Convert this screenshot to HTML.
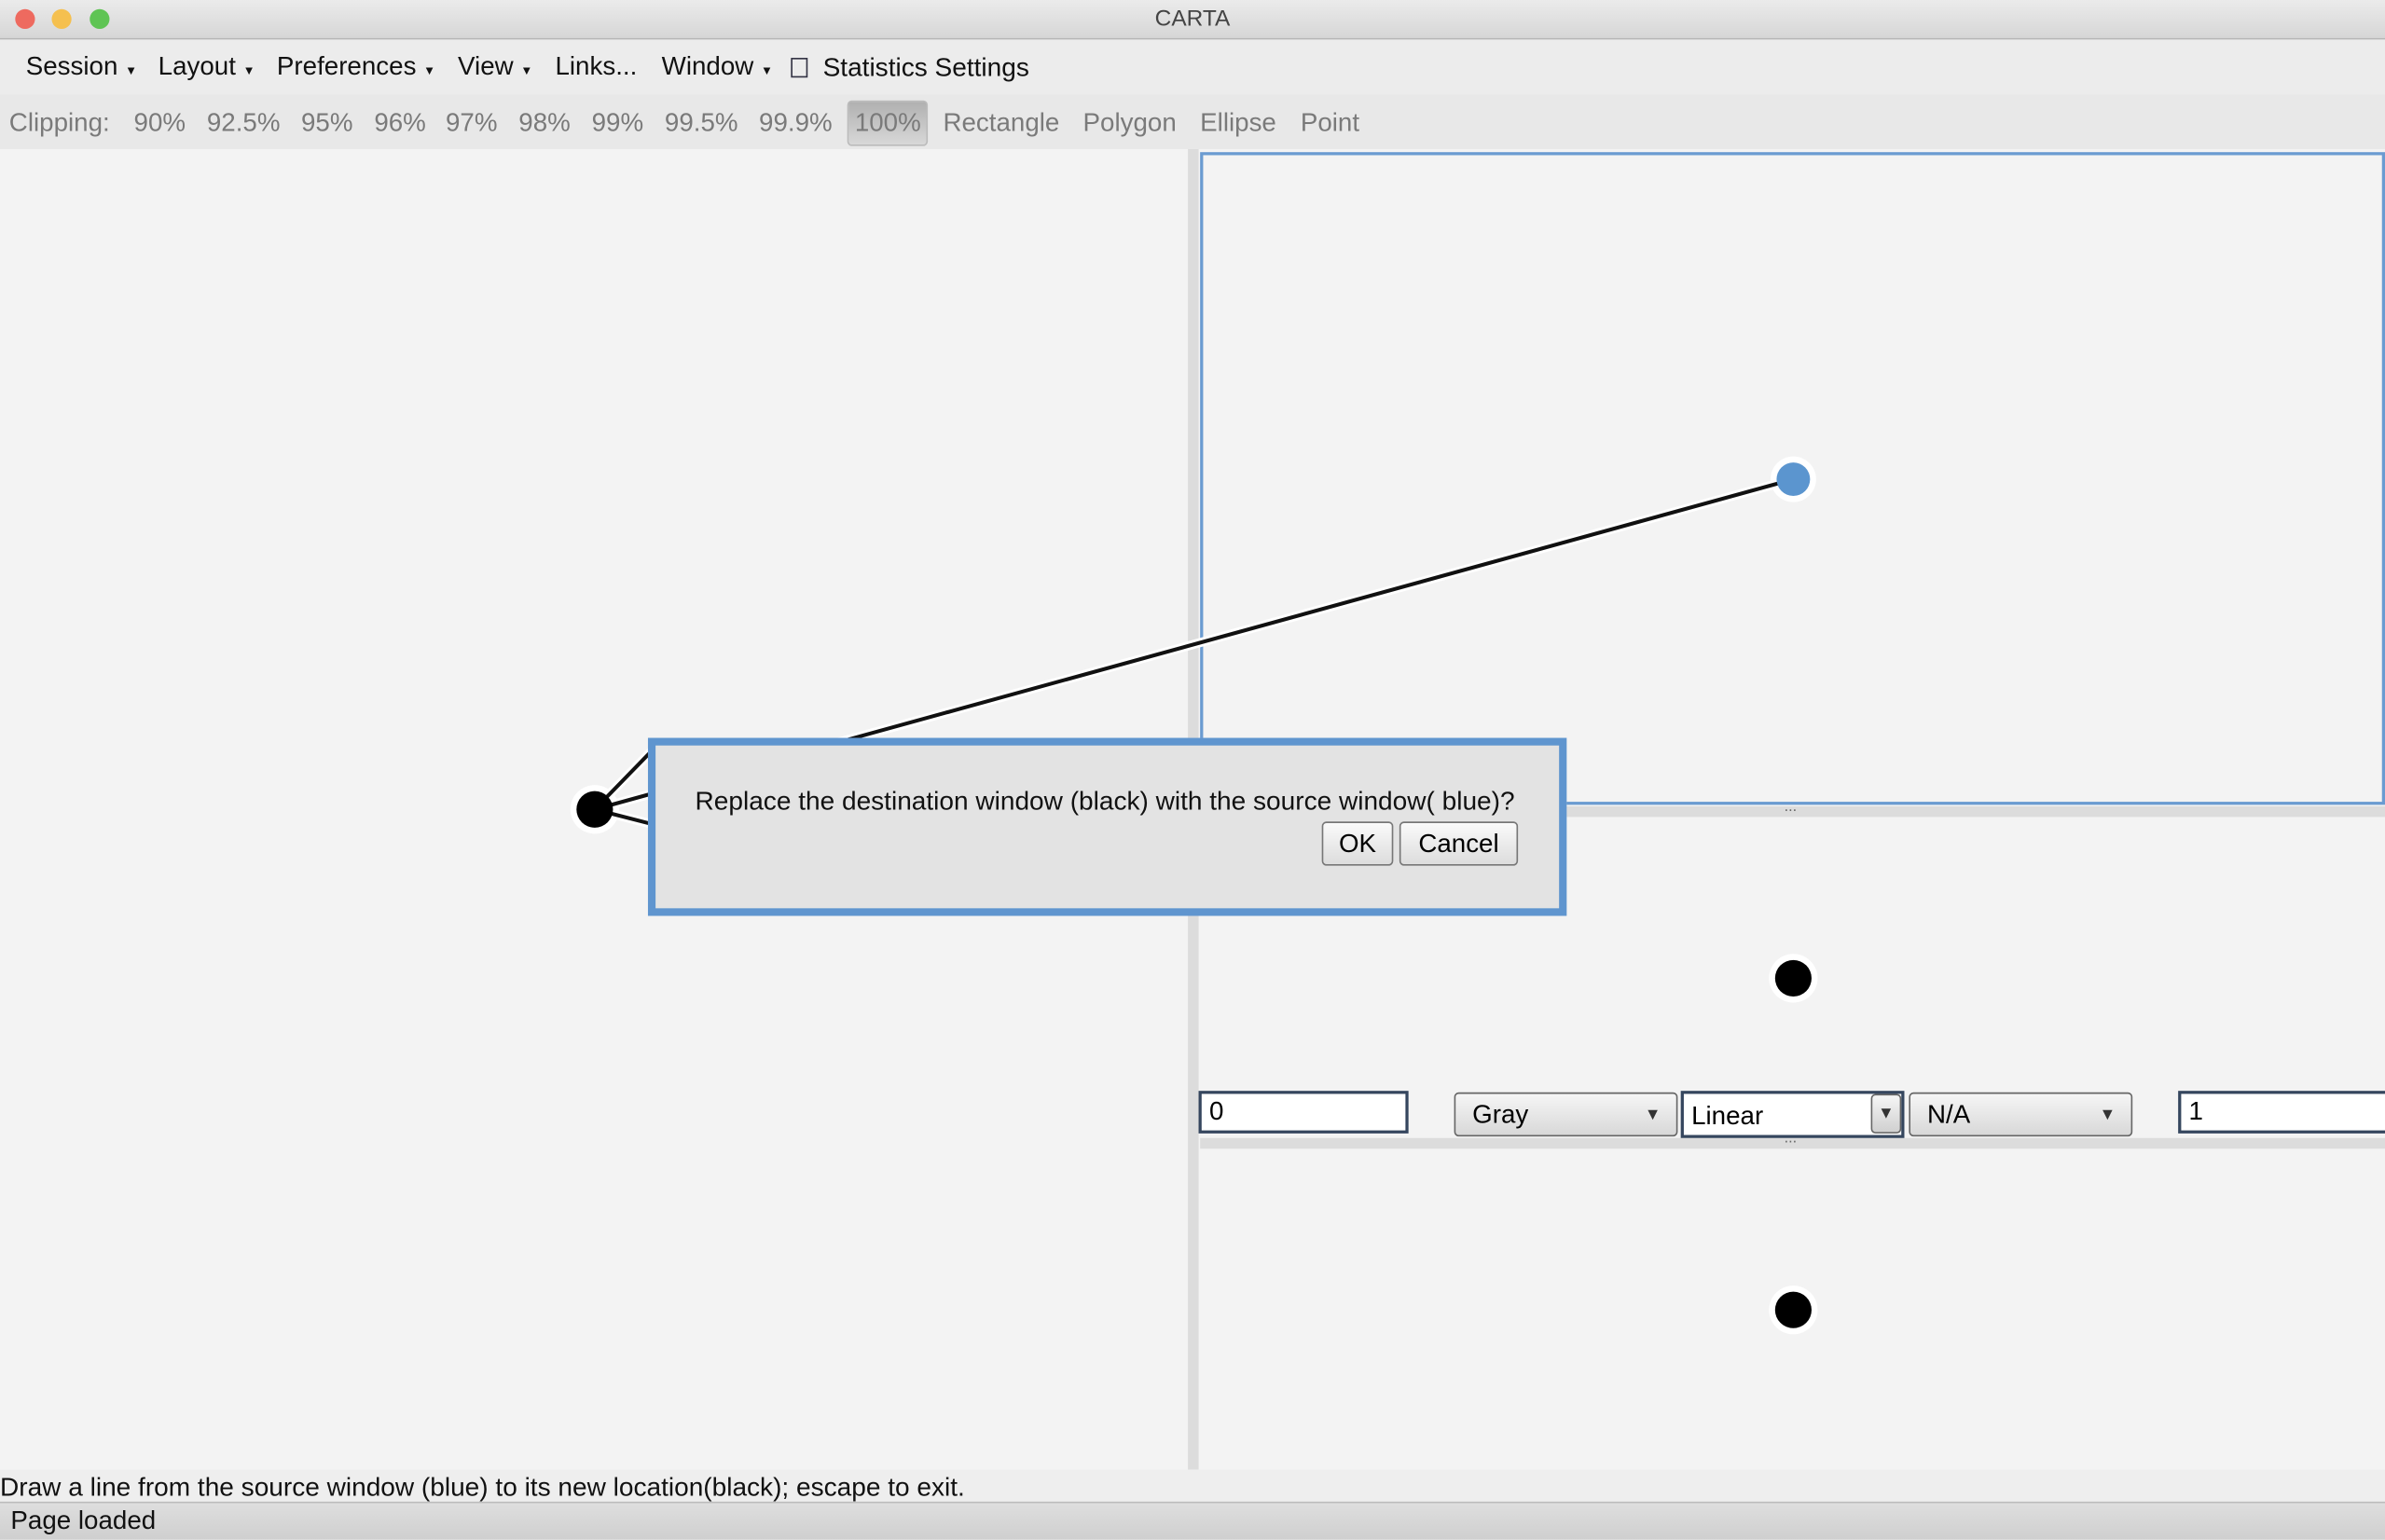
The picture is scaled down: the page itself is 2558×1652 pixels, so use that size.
<!DOCTYPE html>
<html><head><meta charset="utf-8"><style>
html,body{margin:0;padding:0;width:2558px;height:1650px;overflow:hidden;background:#f3f3f3}
#s{position:absolute;left:0;top:0;width:1568px;height:1011px;transform:scale(1.63138,1.63205);transform-origin:0 0;font-family:"Liberation Sans",sans-serif;background:#f3f3f3}
.a{position:absolute}
.t{position:absolute;white-space:nowrap}
.btn{position:absolute;border:1px solid #777;border-radius:3px;background:linear-gradient(#fafafa,#ddd);font-size:17px;text-align:center;box-sizing:border-box}
.dd{position:absolute;border:1px solid #666;border-radius:3px;background:linear-gradient(#f6f6f6,#d8d8d8);box-sizing:border-box;font-size:17px;padding-left:11px;line-height:28px}
.dd i{position:absolute;right:10px;top:0;font-style:normal;font-size:11px;color:#333}
.in{position:absolute;border:2px solid #35465e;background:#fff;box-sizing:border-box;font-size:17px;padding-left:5px;line-height:24px}
</style></head><body><div id="s">
<div class="a" style="left:0;top:0;width:1568px;height:25px;background:linear-gradient(#ebebeb,#d6d6d6);border-bottom:1px solid #b5b5b5"></div>
<div class="a" style="left:10px;top:6px;width:13px;height:13px;border-radius:50%;background:#ee6a5f"></div>
<div class="a" style="left:34px;top:6px;width:13px;height:13px;border-radius:50%;background:#f5c04f"></div>
<div class="a" style="left:59px;top:6px;width:13px;height:13px;border-radius:50%;background:#5fc454"></div>
<div class="t" style="left:0;width:1568px;text-align:center;top:4px;font-size:15px;color:#444">CARTA</div>
<div class="a" style="left:0;top:26px;width:1568px;height:36px;background:#ececec"></div>
<div class="t" style="left:17px;top:34px;font-size:17px;color:#111">Session <span style="font-size:8px">▼</span></div>
<div class="t" style="left:104px;top:34px;font-size:17px;color:#111">Layout <span style="font-size:8px">▼</span></div>
<div class="t" style="left:182px;top:34px;font-size:17px;color:#111">Preferences <span style="font-size:8px">▼</span></div>
<div class="t" style="left:301px;top:34px;font-size:17px;color:#111">View <span style="font-size:8px">▼</span></div>
<div class="t" style="left:365px;top:34px;font-size:17px;color:#111">Links...</div>
<div class="t" style="left:435px;top:34px;font-size:17px;color:#111">Window <span style="font-size:8px">▼</span></div>
<div class="a" style="left:520px;top:38px;width:9px;height:11px;border:1px solid #334"></div>
<div class="t" style="left:541px;top:34px;font-size:17.2px;color:#111">Statistics Settings</div>
<div class="a" style="left:0;top:62px;width:1568px;height:36px;background:#e8e8e8"></div>
<div class="a" style="left:557px;top:66px;width:53px;height:30px;border:1px solid #bbb;border-radius:3px;background:linear-gradient(#b0b0b0,#d8d8d8);box-sizing:border-box"></div>
<div class="t" style="left:6px;top:71px;font-size:17px;color:#7a7a7a">Clipping:</div>
<div class="t" style="left:88px;top:71px;font-size:17px;color:#7a7a7a">90%</div>
<div class="t" style="left:136px;top:71px;font-size:17px;color:#7a7a7a">92.5%</div>
<div class="t" style="left:198px;top:71px;font-size:17px;color:#7a7a7a">95%</div>
<div class="t" style="left:246px;top:71px;font-size:17px;color:#7a7a7a">96%</div>
<div class="t" style="left:293px;top:71px;font-size:17px;color:#7a7a7a">97%</div>
<div class="t" style="left:341px;top:71px;font-size:17px;color:#7a7a7a">98%</div>
<div class="t" style="left:389px;top:71px;font-size:17px;color:#7a7a7a">99%</div>
<div class="t" style="left:437px;top:71px;font-size:17px;color:#7a7a7a">99.5%</div>
<div class="t" style="left:499px;top:71px;font-size:17px;color:#7a7a7a">99.9%</div>
<div class="t" style="left:562px;top:71px;font-size:17px;color:#7a7a7a">100%</div>
<div class="t" style="left:620px;top:71px;font-size:17px;color:#7a7a7a">Rectangle</div>
<div class="t" style="left:712px;top:71px;font-size:17px;color:#7a7a7a">Polygon</div>
<div class="t" style="left:789px;top:71px;font-size:17px;color:#7a7a7a">Ellipse</div>
<div class="t" style="left:855px;top:71px;font-size:17px;color:#7a7a7a">Point</div>
<div class="a" style="left:781px;top:98px;width:7px;height:868px;background:#dcdcdc"></div>
<div class="a" style="left:789px;top:100px;width:779px;height:429px;border:2px solid #6a9bd1;box-sizing:border-box"></div>
<div class="a" style="left:789px;top:530px;width:779px;height:7px;background:#dcdcdc"></div>
<div class="t" style="left:1173px;top:525px;font-size:10px;color:#666">...</div>
<div class="a" style="left:789px;top:748px;width:779px;height:7px;background:#dcdcdc"></div>
<div class="t" style="left:1173px;top:743px;font-size:10px;color:#666">...</div>
<div class="in" style="left:788px;top:717px;width:138px;height:28px">0</div>
<div class="dd" style="left:956px;top:718px;width:147px;height:29px">Gray<i>▼</i></div>
<div class="in" style="left:1105px;top:717px;width:147px;height:31px;line-height:30px">Linear</div>
<div class="a" style="left:1230px;top:719px;width:20px;height:26px;border:1px solid #666;border-radius:3px;background:linear-gradient(#f6f6f6,#d0d0d0);box-sizing:border-box;font-size:11px;text-align:center;line-height:24px;color:#333">▼</div>
<div class="dd" style="left:1255px;top:718px;width:147px;height:29px">N/A<i>▼</i></div>
<div class="in" style="left:1432px;top:717px;width:140px;height:28px">1</div>
<svg class="a" style="left:0;top:0" width="1568" height="1011">
<g stroke="#fff" stroke-width="6" fill="none"><line x1="391" y1="532" x2="1179" y2="315"/><line x1="391" y1="532" x2="430" y2="492"/><line x1="391" y1="532" x2="430" y2="542"/></g>
<circle cx="1179" cy="315" r="15" fill="#fff"/>
<circle cx="391" cy="532" r="16" fill="#fff"/>
<g stroke="#111" stroke-width="2.5" fill="none"><line x1="391" y1="532" x2="1179" y2="315"/><line x1="391" y1="532" x2="430" y2="492"/><line x1="391" y1="532" x2="430" y2="542"/></g>
<circle cx="1179" cy="315" r="11" fill="#5b95cf"/>
<circle cx="391" cy="532" r="12" fill="#000"/>
<circle cx="1179" cy="643" r="16" fill="#fff"/><circle cx="1179" cy="643" r="12" fill="#000"/>
<circle cx="1179" cy="861" r="16" fill="#fff"/><circle cx="1179" cy="861" r="12" fill="#000"/>
</svg>
<div class="a" style="left:426px;top:485px;width:604px;height:117px;border:5px solid #5f95cf;background:#e3e3e3;box-sizing:border-box"></div>
<div class="t" style="left:457px;top:516px;font-size:17.2px;color:#111">Replace the destination window (black) with the source window( blue)?</div>
<div class="btn" style="left:869px;top:540px;width:47px;height:29px;line-height:27px">OK</div>
<div class="btn" style="left:920px;top:540px;width:78px;height:29px;line-height:27px">Cancel</div>
<div class="a" style="left:0;top:966px;width:1568px;height:21px;background:#eeeeee"></div>
<div class="t" style="left:0;top:967px;font-size:17.2px;color:#111">Draw a line from the source window (blue) to its new location(black); escape to exit.</div>
<div class="a" style="left:0;top:987px;width:1568px;height:24px;background:linear-gradient(#dedede,#cfcfcf);border-top:1px solid #bbb"></div>
<div class="t" style="left:7px;top:990px;font-size:17px;color:#111">Page loaded</div>
</div></body></html>
